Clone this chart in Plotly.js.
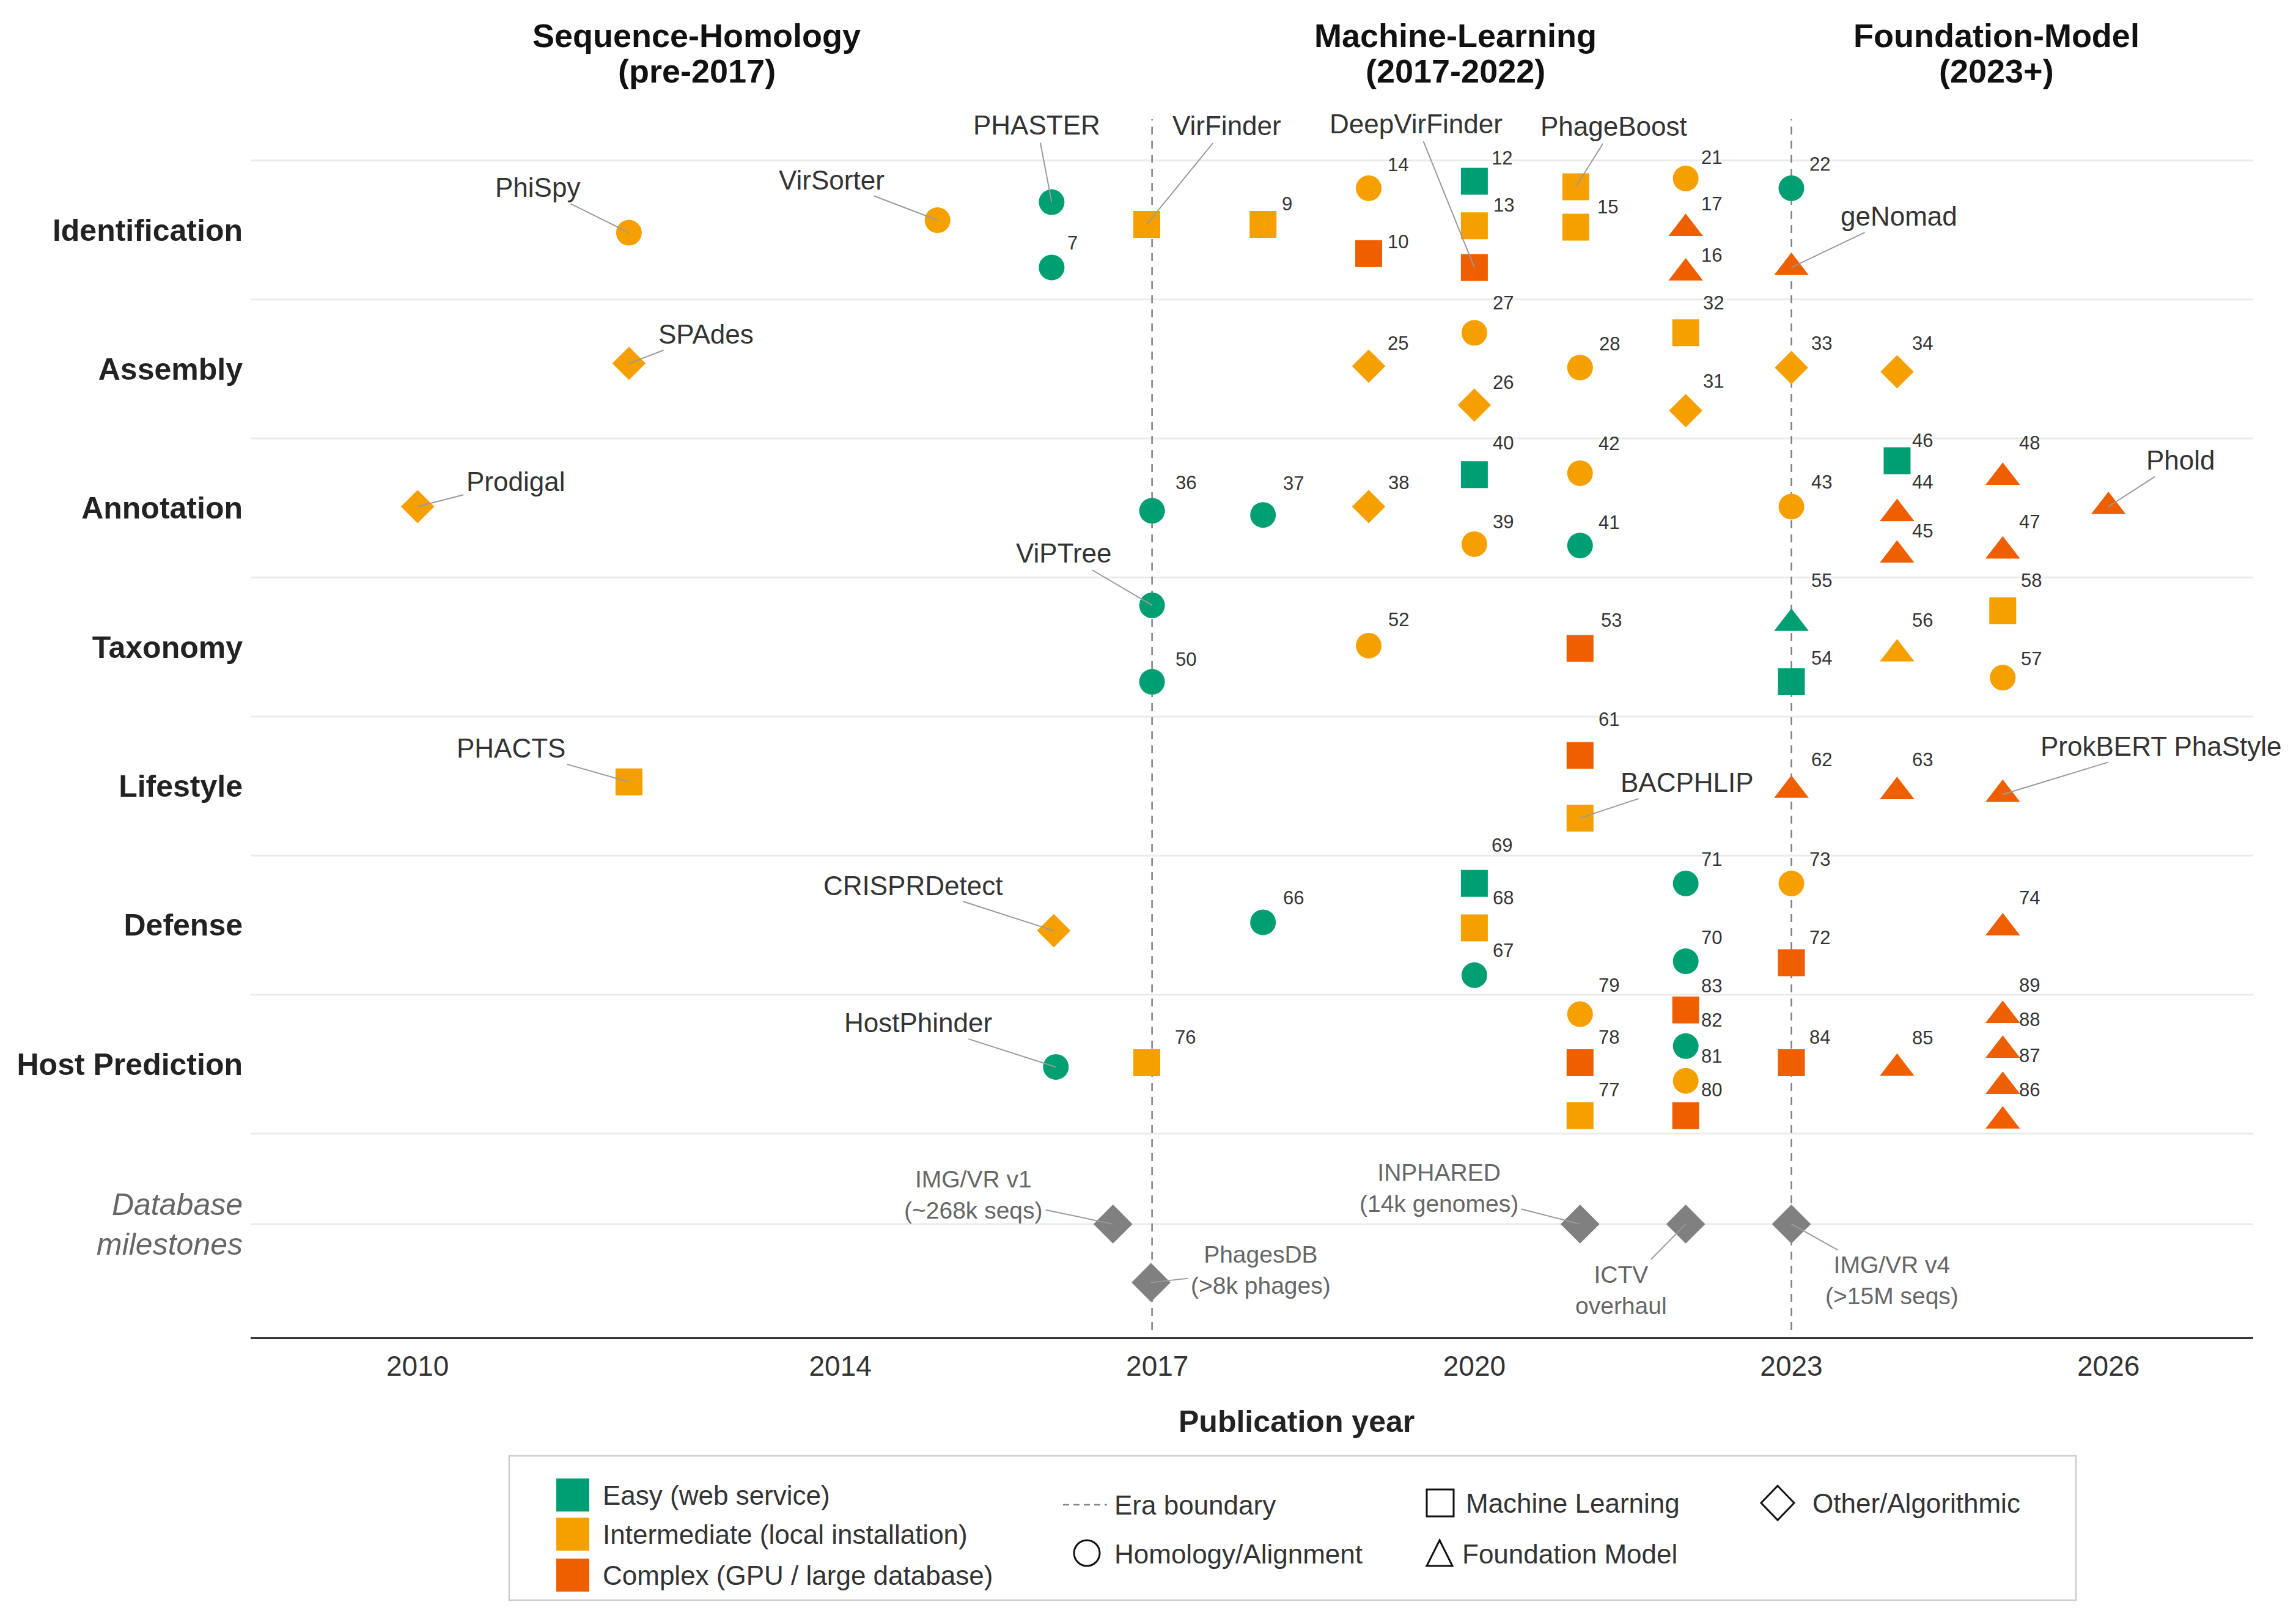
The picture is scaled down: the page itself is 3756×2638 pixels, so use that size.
<!DOCTYPE html>
<html>
<head>
<meta charset="utf-8">
<script src="https://cdn.plot.ly/plotly-3.0.1.min.js"></script>
<style>html,body{margin:0;padding:0;background:#fff}#chart{width:3756px;height:2638px}</style>
</head>
<body>
<div id="chart"></div>
<script>
// ================= DATA =================
const categories = ["Identification","Assembly","Annotation","Taxonomy","Lifestyle","Defense","Host Prediction","Database milestones"];
const categoryY  = [8, 7, 6, 5, 4, 3, 2, 0.85];

const toolLabel = [
  "PhiSpy","VirSorter","PHASTER","7","VirFinder","9","14","10","12","13","DeepVirFinder","PhageBoost","15","21","17","16","22","geNomad",
  "SPAdes","25","27","26","28","32","31","33","34",
  "Prodigal","36","37","38","40","39","42","41","43","46","44","45","48","47","Phold",
  "ViPTree","50","52","53","55","54","56","58","57",
  "PHACTS","61","BACPHLIP","62","63","ProkBERT PhaStyle",
  "CRISPRDetect","66","69","68","67","71","70","73","72","74",
  "HostPhinder","76","79","78","77","83","82","81","80","84","85","89","88","87","86"
];
const toolCategory = [
  "Identification","Identification","Identification","Identification","Identification","Identification","Identification","Identification","Identification","Identification","Identification","Identification","Identification","Identification","Identification","Identification","Identification","Identification",
  "Assembly","Assembly","Assembly","Assembly","Assembly","Assembly","Assembly","Assembly","Assembly",
  "Annotation","Annotation","Annotation","Annotation","Annotation","Annotation","Annotation","Annotation","Annotation","Annotation","Annotation","Annotation","Annotation","Annotation","Annotation",
  "Taxonomy","Taxonomy","Taxonomy","Taxonomy","Taxonomy","Taxonomy","Taxonomy","Taxonomy","Taxonomy",
  "Lifestyle","Lifestyle","Lifestyle","Lifestyle","Lifestyle","Lifestyle",
  "Defense","Defense","Defense","Defense","Defense","Defense","Defense","Defense","Defense","Defense",
  "Host Prediction","Host Prediction","Host Prediction","Host Prediction","Host Prediction","Host Prediction","Host Prediction","Host Prediction","Host Prediction","Host Prediction","Host Prediction","Host Prediction","Host Prediction","Host Prediction","Host Prediction"
];
const toolYear = [
  2012,2014.92,2016,2016,2016.9,2018,2019,2019,2020,2020,2020,2020.96,2020.96,2022,2022,2022,2023,2023,
  2012,2019,2020,2020,2021,2022,2022,2023,2024,
  2010,2016.95,2018,2019,2020,2020,2021,2021,2023,2024,2024,2024,2025,2025,2026,
  2016.95,2016.95,2019,2021,2023,2023,2024,2025,2025,
  2012,2021,2021,2023,2024,2025,
  2016.02,2018,2020,2020,2020,2022,2022,2023,2023,2025,
  2016.04,2016.9,2021,2021,2021,2022,2022,2022,2022,2023,2024,2025,2025,2025,2025
];
// vertical lane offset of each point inside its category row
const toolLane = [
  -0.02,0.07,0.20,-0.27,0.04,0.04,0.30,-0.17,0.35,0.03,-0.27,0.31,0.02,0.37,0.01,-0.31,0.30,-0.27,
  0.04,0.02,0.26,-0.26,0.01,0.26,-0.30,0.01,-0.02,
  0.01,-0.02,-0.05,0.01,0.24,-0.26,0.25,-0.27,0.01,0.34,-0.04,-0.34,0.22,-0.31,0.01,
  0.30,-0.25,0.01,-0.01,0.17,-0.25,-0.05,0.26,-0.22,
  0.03,0.22,-0.23,-0.03,-0.04,-0.06,
  -0.04,0.02,0.30,-0.02,-0.36,0.30,-0.26,0.30,-0.27,-0.02,
  -0.02,0.01,0.36,0.01,-0.37,0.39,0.13,-0.12,-0.37,0.01,-0.03,0.35,0.10,-0.16,-0.41
];
const toolDifficulty = [
  "Intermediate","Intermediate","Easy","Easy","Intermediate","Intermediate","Intermediate","Complex","Easy","Intermediate","Complex","Intermediate","Intermediate","Intermediate","Complex","Complex","Easy","Complex",
  "Intermediate","Intermediate","Intermediate","Intermediate","Intermediate","Intermediate","Intermediate","Intermediate","Intermediate",
  "Intermediate","Easy","Easy","Intermediate","Easy","Intermediate","Intermediate","Easy","Intermediate","Easy","Complex","Complex","Complex","Complex","Complex",
  "Easy","Easy","Intermediate","Complex","Easy","Easy","Intermediate","Intermediate","Intermediate",
  "Intermediate","Complex","Intermediate","Complex","Complex","Complex",
  "Intermediate","Easy","Easy","Intermediate","Easy","Easy","Easy","Intermediate","Complex","Complex",
  "Easy","Intermediate","Intermediate","Complex","Intermediate","Complex","Easy","Intermediate","Complex","Complex","Complex","Complex","Complex","Complex","Complex"
];
const toolMethod = [
  "Homology","Homology","Homology","Homology","ML","ML","Homology","ML","ML","ML","ML","ML","ML","Homology","Foundation","Foundation","Homology","Foundation",
  "Other","Other","Homology","Other","Homology","ML","Other","Other","Other",
  "Other","Homology","Homology","Other","ML","Homology","Homology","Homology","Homology","ML","Foundation","Foundation","Foundation","Foundation","Foundation",
  "Homology","Homology","Homology","ML","Foundation","ML","Foundation","ML","Homology",
  "ML","ML","ML","Foundation","Foundation","Foundation",
  "Other","Homology","ML","ML","Homology","Homology","Homology","Homology","ML","Foundation",
  "Homology","ML","Homology","ML","ML","ML","Homology","Homology","ML","ML","Foundation","Foundation","Foundation","Foundation","Foundation"
];

const dbLabel = ["IMG/VR v1<br>(~268k seqs)","PhagesDB<br>(>8k phages)","INPHARED<br>(14k genomes)","ICTV<br>overhaul","IMG/VR v4<br>(>15M seqs)"];
const dbYear  = [2016.58, 2016.94, 2021, 2022, 2023];
const dbLane  = [0, -0.42, 0, 0, 0];

const eraBoundary   = [2016.95, 2023];
const eraTitleLine1 = ["Sequence-Homology","Machine-Learning","Foundation-Model"];
const eraTitleLine2 = ["(pre-2017)","(2017-2022)","(2023+)"];
const eraTitleX     = [2012.64, 2019.82, 2024.94];

const xTickVals = [2010, 2014, 2017, 2020, 2023, 2026];
const difficultyLegend = ["Easy (web service)","Intermediate (local installation)","Complex (GPU / large database)"];
const methodLegend = ["Homology/Alignment","Machine Learning","Foundation Model","Other/Algorithmic"];

// ================= STYLE / LAYOUT =================
const FONT = "Liberation Sans, Arial, Helvetica, sans-serif";
const W = 3756, H = 2638;
const M = {l: 410, r: 70, t: 195, b: 451};
const PW = W - M.l - M.r, PH = H - M.t - M.b;
const PX = p => (p - M.l) / PW;
const PY = p => (H - M.b - p) / PH;

const diffColor = {Easy: "#009E73", Intermediate: "#F6A000", Complex: "#EF5F00"};
const methodSymbol = {Homology: "circle", ML: "square", Foundation: "triangle-up", Other: "diamond"};
const methodSize = {Homology: 42, ML: 44, Foundation: 49, Other: 42};

// label offsets (pixels: dx right, dy down) relative to the point
const labelOffset = {
  "PhiSpy":[-149,-74],"VirSorter":[-173,-66],"PHASTER":[-24,-126],"VirFinder":[131,-161],"DeepVirFinder":[-95,-235],
  "PhageBoost":[62,-99],"geNomad":[176,-84],"SPAdes":[126,-48],"Prodigal":[160,-41],"Phold":[118,-76],
  "ViPTree":[-144,-85],"PHACTS":[-193,-55],"BACPHLIP":[175,-58],"ProkBERT PhaStyle":[259,-79],
  "CRISPRDetect":[-230,-74],"HostPhinder":[-225,-72],
  "7":[34,-40],"9":[39,-33],"14":[48,-38],"10":[48,-19],"12":[45,-38],"13":[48,-34],"15":[52,-33],"21":[42,-34],"17":[42,-40],"16":[42,-29],"22":[46,-39],
  "25":[48,-37],"27":[47,-49],"26":[47,-37],"28":[48,-39],"32":[45,-49],"31":[45,-48],"33":[49,-40],"34":[42,-46],
  "36":[55,-46],"37":[50,-52],"38":[49,-39],"40":[47,-52],"39":[47,-36],"42":[47,-48],"41":[47,-38],"43":[49,-40],"46":[42,-33],"44":[42,-51],"45":[42,-40],"48":[44,-56],"47":[44,-48],
  "50":[55,-37],"52":[49,-42],"53":[51,-46],"55":[49,-70],"54":[49,-39],"56":[42,-55],"58":[47,-50],"57":[47,-31],
  "61":[47,-59],"62":[49,-50],"63":[42,-52],
  "66":[50,-40],"69":[45,-62],"68":[47,-49],"67":[47,-40],"71":[42,-39],"70":[42,-39],"73":[46,-39],"72":[46,-41],"74":[44,-49],
  "76":[63,-42],"79":[47,-47],"78":[47,-42],"77":[47,-42],"83":[42,-39],"82":[42,-42],"81":[42,-40],"80":[42,-42],"84":[46,-42],"85":[42,-50],"89":[44,-49],"88":[44,-50],"87":[44,-50],"86":[44,-51]
};
const dbLabelOffset = [[-228,-48],[180,-20],[-231,-59],[-106,108],[164,92]];

// ================= BUILD =================
const rowY = {};
categories.forEach((c, i) => rowY[c] = categoryY[i]);
const toolY = toolCategory.map((c, i) => rowY[c] + toolLane[i]);
const dbY = dbLane.map(v => rowY["Database milestones"] + v);

const traces = [
  {
    type: "scatter", mode: "markers", x: toolYear, y: toolY, cliponaxis: false, hoverinfo: "skip",
    marker: {
      symbol: toolMethod.map(m => methodSymbol[m]),
      size: toolMethod.map(m => methodSize[m]),
      color: toolDifficulty.map(d => diffColor[d]),
      line: {width: 0}, opacity: 1
    },
    showlegend: false
  },
  {
    type: "scatter", mode: "markers", x: dbYear, y: dbY, cliponaxis: false, hoverinfo: "skip",
    marker: {symbol: "diamond", size: 49, color: "#808080", line: {width: 0}},
    showlegend: false
  }
];

const annotations = [];
// tool labels
toolLabel.forEach((lab, i) => {
  const off = labelOffset[lab] || [44, -42];
  const isNum = /^\d+$/.test(lab);
  if (isNum) {
    annotations.push({x: toolYear[i], y: toolY[i], xref: "x", yref: "y", text: lab, showarrow: false,
      xanchor: "center", yanchor: "middle", xshift: off[0], yshift: -off[1],
      font: {family: FONT, size: 31, color: "#333333"}});
  } else {
    annotations.push({x: toolYear[i], y: toolY[i], xref: "x", yref: "y", text: lab, showarrow: true,
      ax: off[0], ay: off[1], axref: "pixel", ayref: "pixel", arrowhead: 0, arrowwidth: 2, arrowcolor: "#9a9a9a",
      standoff: 0, startstandoff: 4, borderpad: 0,
      font: {family: FONT, size: 44, color: "#333333"}});
  }
});
// database labels
dbLabel.forEach((lab, i) => {
  const off = dbLabelOffset[i];
  annotations.push({x: dbYear[i], y: dbY[i], xref: "x", yref: "y", text: lab, showarrow: true,
    ax: off[0], ay: off[1], axref: "pixel", ayref: "pixel", arrowhead: 0, arrowwidth: 2, arrowcolor: "#9a9a9a",
    standoff: 0, startstandoff: 4, borderpad: 0,
    font: {family: FONT, size: 39, color: "#666666"}});
});
// era titles
eraTitleX.forEach((x, i) => {
  annotations.push({x: x, xref: "x", y: PY(58), yref: "paper", text: "<b>" + eraTitleLine1[i] + "</b>", showarrow: false,
    xanchor: "center", yanchor: "middle", font: {family: FONT, size: 54, color: "#111111"}});
  annotations.push({x: x, xref: "x", y: PY(116), yref: "paper", text: "<b>" + eraTitleLine2[i] + "</b>", showarrow: false,
    xanchor: "center", yanchor: "middle", font: {family: FONT, size: 54, color: "#111111"}});
});
// x axis title
annotations.push({x: PX(2121), y: PY(2325), xref: "paper", yref: "paper", text: "<b>Publication year</b>", showarrow: false,
  xanchor: "center", yanchor: "middle", font: {family: FONT, size: 50, color: "#222222"}});

// legend (manual, bottom box)
const shapes = [];
// category separators + database gridline
[8.5, 7.5, 6.5, 5.5, 4.5, 3.5, 2.5, 1.5, rowY["Database milestones"]].forEach(v => {
  shapes.push({type: "line", xref: "paper", yref: "y", x0: 0, x1: 1, y0: v, y1: v, layer: "below",
    line: {color: "#EBEBEB", width: 3}});
});
// era boundaries
eraBoundary.forEach(x => {
  shapes.push({type: "line", xref: "x", yref: "paper", x0: x, x1: x, y0: 0.006, y1: 1, layer: "below",
    line: {color: "#808080", width: 2.5, dash: "13px,10px"}});
});
// legend box
shapes.push({type: "rect", xref: "paper", yref: "paper", x0: PX(833), x1: PX(3396), y0: PY(2617), y1: PY(2381),
  line: {color: "#CCCCCC", width: 2.5}, fillcolor: "rgba(0,0,0,0)"});
const legDiffY = [2445, 2509, 2576];
["Easy", "Intermediate", "Complex"].forEach((d, i) => {
  shapes.push({type: "rect", xref: "paper", yref: "paper", x0: PX(910), x1: PX(964), y0: PY(legDiffY[i] + 27), y1: PY(legDiffY[i] - 27),
    line: {width: 0}, fillcolor: diffColor[d]});
  annotations.push({x: PX(984), y: PY(legDiffY[i]), xref: "paper", yref: "paper", text: difficultyLegend[i], showarrow: false,
    xanchor: "left", yanchor: "middle", font: {family: FONT, size: 44, color: "#333333"}});
});
// era boundary legend
shapes.push({type: "line", xref: "paper", yref: "paper", x0: PX(1739), x1: PX(1811), y0: PY(2461), y1: PY(2461),
  line: {color: "#888888", width: 2.5, dash: "10px,7px"}});
annotations.push({x: PX(1821), y: PY(2461), xref: "paper", yref: "paper", text: "Era boundary", showarrow: false,
  xanchor: "left", yanchor: "middle", font: {family: FONT, size: 44, color: "#333333"}});
// homology (hollow circle)
shapes.push({type: "circle", xref: "paper", yref: "paper", x0: PX(1757), x1: PX(1799), y0: PY(2561), y1: PY(2519),
  line: {color: "#111111", width: 3}, fillcolor: "rgba(0,0,0,0)"});
annotations.push({x: PX(1821), y: PY(2541), xref: "paper", yref: "paper", text: methodLegend[0], showarrow: false,
  xanchor: "left", yanchor: "middle", font: {family: FONT, size: 44, color: "#333333"}});
// machine learning (hollow square)
shapes.push({type: "rect", xref: "paper", yref: "paper", x0: PX(2334), x1: PX(2378), y0: PY(2480), y1: PY(2436),
  line: {color: "#111111", width: 3}, fillcolor: "rgba(0,0,0,0)"});
annotations.push({x: PX(2396), y: PY(2458), xref: "paper", yref: "paper", text: methodLegend[1], showarrow: false,
  xanchor: "left", yanchor: "middle", font: {family: FONT, size: 44, color: "#333333"}});
// foundation model (hollow triangle)
shapes.push({type: "path", xref: "paper", yref: "paper",
  path: "M" + PX(2355) + "," + PY(2519) + " L" + PX(2376) + "," + PY(2561) + " L" + PX(2334) + "," + PY(2561) + " Z",
  line: {color: "#111111", width: 3}, fillcolor: "rgba(0,0,0,0)"});
annotations.push({x: PX(2390), y: PY(2541), xref: "paper", yref: "paper", text: methodLegend[2], showarrow: false,
  xanchor: "left", yanchor: "middle", font: {family: FONT, size: 44, color: "#333333"}});
// other (hollow diamond)
shapes.push({type: "path", xref: "paper", yref: "paper",
  path: "M" + PX(2908) + "," + PY(2430) + " L" + PX(2935) + "," + PY(2458) + " L" + PX(2908) + "," + PY(2486) + " L" + PX(2881) + "," + PY(2458) + " Z",
  line: {color: "#111111", width: 3}, fillcolor: "rgba(0,0,0,0)"});
annotations.push({x: PX(2963), y: PY(2458), xref: "paper", yref: "paper", text: methodLegend[3], showarrow: false,
  xanchor: "left", yanchor: "middle", font: {family: FONT, size: 44, color: "#333333"}});

const yTickText = categories.map(c => c === "Database milestones"
  ? '<i><span style="color:#666666">Database</span></i><br><i><span style="color:#666666">milestones</span></i>'
  : "<b>" + c + "</b>");

const layout = {
  width: W, height: H,
  margin: M,
  paper_bgcolor: "#ffffff", plot_bgcolor: "#ffffff",
  font: {family: FONT, color: "#333333"},
  hovermode: false,
  showlegend: false,
  xaxis: {
    range: [2008.42, 2027.37], tickvals: xTickVals, ticktext: xTickVals.map(String),
    showgrid: false, zeroline: false, showline: true, linecolor: "#333333", linewidth: 3,
    ticks: "", ticklabelstandoff: 5, tickfont: {family: FONT, size: 46, color: "#333333"}, fixedrange: true
  },
  yaxis: {
    range: [0.036, 8.796], tickvals: categoryY, ticktext: yTickText,
    showgrid: false, zeroline: false, showline: false, ticks: "", ticklabelstandoff: 12,
    tickfont: {family: FONT, size: 50, color: "#222222"}, fixedrange: true
  },
  shapes: shapes,
  annotations: annotations
};

Plotly.newPlot("chart", traces, layout, {staticPlot: true, displayModeBar: false});
</script>
</body>
</html>
